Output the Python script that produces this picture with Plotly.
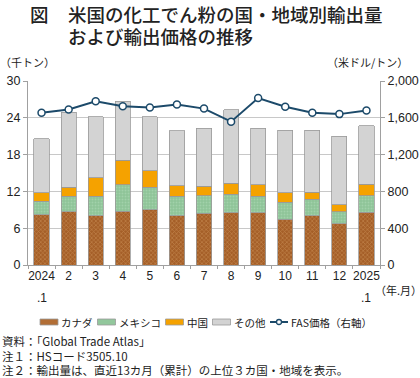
import plotly.graph_objects as go

months = ["2024", "2", "3", "4", "5", "6", "7", "8", "9", "10", "11", "12", "2025"]
canada = [8.2, 8.7, 8.0, 8.8, 9.0, 8.0, 8.4, 8.5, 8.5, 7.5, 8.0, 6.7, 8.6]
mexico = [2.2, 2.5, 3.2, 4.3, 3.7, 3.2, 2.9, 3.0, 2.7, 2.7, 2.7, 2.0, 2.7]
china = [1.4, 1.5, 3.0, 4.0, 2.7, 1.7, 1.5, 1.8, 1.9, 1.6, 1.2, 1.1, 1.9]
other = [8.8, 12.2, 10.0, 9.6, 8.8, 9.0, 9.5, 12.0, 9.2, 10.2, 10.1, 11.2, 9.5]
price = [1655, 1690, 1780, 1725, 1712, 1745, 1700, 1558, 1815, 1720, 1655, 1640, 1680]
series_names = ["カナダ", "メキシコ", "中国", "その他", "FAS価格（右軸）"]

FONT = "Liberation Sans, Arial, Noto Sans CJK JP, sans-serif"
JP = "Noto Sans CJK JP, sans-serif"
edge = dict(color="#9A9A9A", width=0.8)
xs = list(range(len(months)))

# plot area in pixels
L, R, T, B = 28, 380, 81, 265
W, H = R - L, B - T
def px(x):
    return (x - L) / W
def py(y):
    return (B - y) / H

colors = ["#B26E35", "#92C79C", "#F5A200", "#D3D3D3"]
fig = go.Figure()
fig.add_bar(x=xs, y=canada, name=series_names[0],
            marker=dict(color=colors[0], line=edge,
                        pattern=dict(shape="x", fgcolor="#D9A36A", bgcolor="#A55F28", size=3, solidity=0.4)))
fig.add_bar(x=xs, y=mexico, name=series_names[1],
            marker=dict(color=colors[1], line=edge,
                        pattern=dict(shape=".", fgcolor="#B5DDBC", bgcolor="#8EC498", size=3, solidity=0.3)))
fig.add_bar(x=xs, y=china, name=series_names[2], marker=dict(color=colors[2], line=edge))
fig.add_bar(x=xs, y=other, name=series_names[3], marker=dict(color=colors[3], line=edge))
fig.add_scatter(x=xs, y=price, name=series_names[4], yaxis="y2", mode="lines+markers",
                line=dict(color="#1C4A6A", width=2),
                marker=dict(symbol="circle", size=7, color="white", line=dict(color="#1C4A6A", width=1.5)))

ann = []
def A(text, x, y, size=12, xanchor="left", xref="paper", family=JP, color="#222", weight=None):
    f = dict(family=family, size=size, color=color)
    if weight:
        f["weight"] = weight
    ann.append(dict(text=text, x=x, y=y, xref=xref, yref="paper", xanchor=xanchor, yanchor="middle",
                    showarrow=False, font=f))

A("図", px(39), py(14), size=18.5, xanchor="center", weight=500)
A("米国の化工でん粉の国・地域別輸出量", px(66), py(14), size=18.5, weight=500)
A("および輸出価格の推移", px(66), py(36), size=18.5, weight=500)
A("（千トン）", px(-2), py(62), size=11)
A("（米ドル/トン）", px(410), py(62), size=11, xanchor="right")
A("（年.月）", px(373), py(290), size=11)
A(".1", xs[0], py(298), size=12, xanchor="center", xref="x", family=FONT)
A(".1", xs[-1], py(298), size=12, xanchor="center", xref="x", family=FONT)
A("資料：「Global Trade Atlas」", px(0), py(341), size=11.5)
A("注１：HSコード3505.10", px(0), py(356), size=11.5)
A("注２：輸出量は、直近13カ月（累計）の上位３カ国・地域を表示。", px(0), py(370), size=11.5)

# custom compact legend
shapes = []
leg_y = 322
sw = [(40, 58), (97.5, 115.5), (165.5, 183.5), (212.5, 230.5)]
for (a, b), c, n in zip(sw, colors, series_names[:4]):
    shapes.append(dict(type="rect", xref="paper", yref="paper", x0=px(a), x1=px(b),
                       y0=py(leg_y + 3), y1=py(leg_y - 3), fillcolor=c,
                       line=dict(color="#9A9A9A", width=0.8)))
    A(n, px(b + 1), py(leg_y), size=10.5)
shapes.append(dict(type="line", xref="paper", yref="paper", x0=px(270), x1=px(288),
                   y0=py(leg_y), y1=py(leg_y), line=dict(color="#1C4A6A", width=2)))
shapes.append(dict(type="circle", xref="paper", yref="paper", x0=px(276.5), x1=px(281.5),
                   y0=py(leg_y + 2.5), y1=py(leg_y - 2.5), fillcolor="white",
                   line=dict(color="#1C4A6A", width=1.3)))
A(series_names[4], px(289), py(leg_y), size=10.5)

fig.update_layout(
    width=420, height=378,
    margin=dict(l=L, r=420 - R, t=T, b=378 - B, autoexpand=False),
    paper_bgcolor="white", plot_bgcolor="white",
    barmode="stack", bargap=0.44,
    font=dict(family=FONT, size=12, color="#222"),
    showlegend=False,
    annotations=ann, shapes=shapes,
    xaxis=dict(range=[-0.5, len(xs) - 0.5], tickvals=xs, ticktext=months, ticks="",
               minor=dict(ticks="outside", tick0=-0.5, dtick=1, ticklen=3, tickcolor="#A0A0A0",
                          showgrid=False),
               showline=True, linecolor="#A0A0A0", showgrid=False, zeroline=False,
               tickfont=dict(size=12)),
    yaxis=dict(range=[0, 30], dtick=6, showgrid=True, gridcolor="#C8C8C8",
               showline=True, linecolor="#A0A0A0", ticks="outside", ticklen=4,
               tickcolor="#A0A0A0", tickfont=dict(size=12.5), zeroline=False),
    yaxis2=dict(range=[0, 2000], dtick=400, overlaying="y", side="right",
                showgrid=False, showline=True, linecolor="#A0A0A0", ticks="outside",
                ticklen=4, tickcolor="#A0A0A0", tickformat=",d", tickfont=dict(size=12.5),
                zeroline=False),
)

fig.write_html("out.html", config={"displayModeBar": False},
               post_script="document.body.style.margin='0';document.body.style.overflow='hidden';")
